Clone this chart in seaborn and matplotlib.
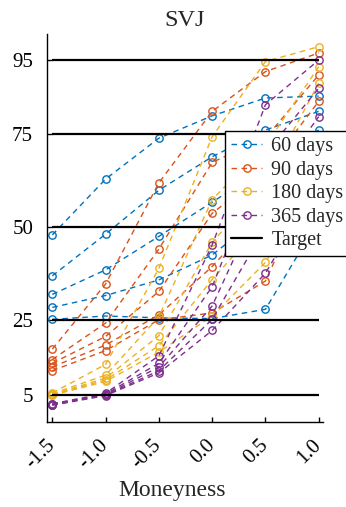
import numpy as np
import pandas as pd
import matplotlib
matplotlib.use("Agg")
import matplotlib.pyplot as plt
import seaborn as sns
from matplotlib.lines import Line2D

# ---------------- data ----------------
moneyness = [-1.5, -1.0, -0.5, 0.0, 0.5, 1.0]
xtick_labels = ["-1.5", "-1.0", "-0.5", "0.0", "0.5", "1.0"]
quantile_levels = [5, 25, 50, 75, 95]
targets = [5, 25, 50, 75, 95]
maturities = ["60 days", "90 days", "180 days", "365 days"]

# coverage (%) per quantile line, low -> high quantile
cov_60 = [
    [25.3, 26.2, 25.7, 25.5, 28.0, 52.0],
    [28.5, 31.7, 35.9, 42.6, 54.0, 65.0],
    [32.0, 38.6, 47.6, 56.8, 66.0, 76.2],
    [37.0, 48.2, 60.0, 69.0, 76.2, 81.2],
    [48.0, 63.0, 74.0, 80.0, 84.8, 85.3],
]
cov_90 = [
    [11.5, 16.9, 25.2, 27.0, 35.6, 67.0],
    [12.5, 18.4, 26.5, 39.5, 55.0, 74.0],
    [13.5, 20.7, 32.8, 53.8, 65.0, 83.9],
    [14.5, 24.3, 44.2, 67.5, 74.0, 91.0],
    [17.3, 34.8, 62.0, 81.2, 91.9, 96.9],
]
cov_180 = [
    [4.9, 8.6, 16.5, 26.2, 40.6, 66.0],
    [5.0, 9.0, 18.2, 36.0, 52.0, 74.0],
    [5.1, 9.5, 20.9, 46.0, 62.0, 88.8],
    [5.3, 10.3, 26.0, 57.5, 72.0, 93.2],
    [5.5, 13.2, 39.0, 74.4, 94.6, 98.6],
]
cov_365 = [
    [2.2, 4.8, 10.9, 22.3, 37.7, 62.0],
    [2.3, 4.9, 11.5, 25.3, 50.0, 70.0],
    [2.4, 5.0, 12.5, 28.9, 60.0, 79.8],
    [2.5, 5.2, 13.5, 34.1, 70.0, 87.4],
    [2.6, 5.4, 15.5, 45.3, 83.0, 95.0],
]
all_cov = [cov_60, cov_90, cov_180, cov_365]

rows = []
for mat, cov in zip(maturities, all_cov):
    for q, vals in zip(quantile_levels, cov):
        for m, v in zip(moneyness, vals):
            rows.append({"maturity": mat, "quantile": q, "moneyness": m, "coverage": v})
df = pd.DataFrame(rows)

# ---------------- style ----------------
colors = ["#0072BD", "#D95319", "#EDB120", "#7E2F8E"]
sns.set_style("ticks")
plt.rcParams["font.family"] = ["Liberation Serif", "DejaVu Serif"]

dash = (0, (4.0, 3.2))

fig = plt.figure(figsize=(3.46, 5.07), dpi=100)
ax = fig.add_axes([47 / 346, 1 - 422 / 507, 276 / 346, 388 / 507])

for mat, col in zip(maturities, colors):
    sub = df[df["maturity"] == mat]
    sns.lineplot(
        data=sub, x="moneyness", y="coverage", units="quantile", estimator=None,
        color=col, linestyle=dash, linewidth=1.0, marker="o", markersize=5.3,
        markerfacecolor="none", markeredgecolor=col, markeredgewidth=1.0,
        sort=False, legend=False, ax=ax,
    )

ax.hlines(targets, moneyness[0], moneyness[-1], colors="k", linewidth=1.6, zorder=3)

ax.set_xlim(-1.55, 1.04)
ax.set_ylim(-2.3, 102)
ax.set_xticks(moneyness)
ax.set_xticklabels(xtick_labels, rotation=45, ha="right", va="center",
                   rotation_mode="anchor")
ax.set_yticks(targets)
ax.set_yticklabels([str(t) for t in targets])
ax.tick_params(axis="both", direction="in", length=3.5, width=1.0, colors="k",
               labelsize=15)
ax.tick_params(axis="x", pad=15)
ax.tick_params(axis="y", pad=10)
for s in ["top", "right"]:
    ax.spines[s].set_visible(False)
for s in ["left", "bottom"]:
    ax.spines[s].set_color("k")
    ax.spines[s].set_linewidth(1.0)

ax.set_title("SVJ", fontsize=17.5, pad=6)
ax.set_xlabel("Moneyness", fontsize=17)
ax.set_ylabel("")
ax.xaxis.set_label_coords(0.453, -0.150)

handles = [
    Line2D([], [], color=c, linestyle=dash, linewidth=1.0, marker="o", markersize=5.3,
           markerfacecolor="none", markeredgecolor=c, markeredgewidth=1.0)
    for c in colors
] + [Line2D([], [], color="k", linewidth=1.6)]
leg = ax.legend(
    handles, maturities + ["Target"], loc="upper left",
    bbox_to_anchor=(225 / 346, 1 - 131 / 507), bbox_transform=fig.transFigure,
    frameon=True, fancybox=False, edgecolor="k", framealpha=1, fontsize=14.5,
    handlelength=1.55, handletextpad=0.45, borderpad=0.3, labelspacing=0.22,
    borderaxespad=0,
)
leg.get_frame().set_linewidth(1.0)
leg.set_zorder(10)

fig.savefig("out.png", dpi=100)
